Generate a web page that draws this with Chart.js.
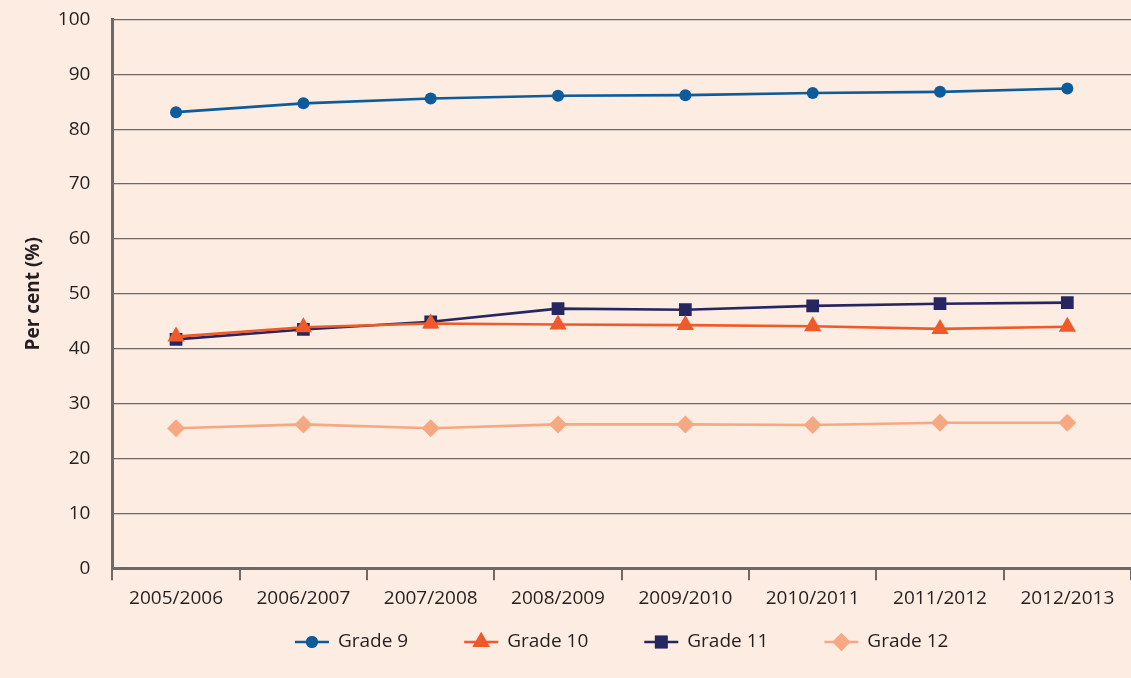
<!DOCTYPE html>
<html>
<head>
<meta charset="utf-8">
<script src="https://cdn.jsdelivr.net/npm/chart.js@4.4.1/dist/chart.umd.min.js"></script>
<style>
    html, body { margin: 0; padding: 0; background: #fdece2; overflow: hidden; }
    #wrap { width: 1131px; height: 678px; }
</style>
</head>
<body>
<div id="wrap"><canvas id="myChart"></canvas></div>
<script>
const years = ["2005/2006", "2006/2007", "2007/2008", "2008/2009", "2009/2010", "2010/2011", "2011/2012", "2012/2013"]
const grade9 = [83.1, 84.7, 85.6, 86.1, 86.2, 86.6, 86.8, 87.4]
const grade10 = [42.2, 43.9, 44.6, 44.4, 44.3, 44.1, 43.6, 44.0]
const grade11 = [41.7, 43.5, 44.9, 47.3, 47.1, 47.8, 48.2, 48.4]
const grade12 = [25.5, 26.2, 25.5, 26.2, 26.2, 26.1, 26.5, 26.5]
const yTicks = [0, 10, 20, 30, 40, 50, 60, 70, 80, 90, 100]

const fontFamily = "'Open Sans', 'Noto Sans', sans-serif"
const textColor = "#231f20"
const gridColor = "#6e6867"

function makeSet(label, data, color, style, radius) {
    return {
        label: label,
        data: data,
        borderColor: color,
        backgroundColor: color,
        borderWidth: 2.6,
        pointStyle: style,
        pointRadius: radius,
        pointHoverRadius: radius,
        pointBorderWidth: 0,
        tension: 0,
    }
}

const datasets = [
    makeSet("Grade 9", grade9, "#0d5b99", "circle", 6),
    makeSet("Grade 10", grade10, "#ef5a28", "triangle", 10),
    makeSet("Grade 11", grade11, "#262761", "rect", 9),
    makeSet("Grade 12", grade12, "#f6a883", "rectRot", 9),
]

// legend drawn by hand: line + marker + text, centred under the plot
const lineLegend = {
    id: "lineLegend",
    afterDraw(chart) {
        const ctx = chart.ctx
        const sets = chart.data.datasets
        const y = 642
        const lineLen = 34
        const textGap = 9
        const itemGap = 56
        ctx.save()
        ctx.font = "19px " + fontFamily
        const widths = sets.map((ds) => ctx.measureText(ds.label).width)
        let total = 0
        widths.forEach((w, i) => {
            total += lineLen + textGap + w + (i < widths.length - 1 ? itemGap : 0)
        })
        const area = chart.chartArea
        let x = (area.left + area.right) / 2 - total / 2
        sets.forEach((ds, i) => {
            ctx.strokeStyle = ds.borderColor
            ctx.lineWidth = 2.6
            ctx.beginPath()
            ctx.moveTo(x, y)
            ctx.lineTo(x + lineLen, y)
            ctx.stroke()
            ctx.fillStyle = ds.backgroundColor
            Chart.helpers.drawPoint(ctx, { pointStyle: ds.pointStyle, radius: ds.pointRadius, borderWidth: 0 }, x + lineLen / 2, y)
            ctx.fill()
            ctx.fillStyle = textColor
            ctx.textBaseline = "middle"
            ctx.textAlign = "left"
            ctx.fillText(ds.label, x + lineLen + textGap, y)
            x += lineLen + textGap + widths[i] + itemGap
        })
        ctx.restore()
    },
}

const canvasChart = document.getElementById("myChart").getContext("2d")

new Chart(canvasChart, {
    type: "line",
    data: { labels: years, datasets: datasets },
    plugins: [lineLegend],
    options: {
        responsive: true,
        maintainAspectRatio: false,
        animation: false,
        layout: { autoPadding: false, padding: { top: 0, right: 0, bottom: 61, left: 22 } },
        plugins: {
            tooltip: { enabled: false },
            legend: { display: false },
        },
        scales: {
            x: {
                offset: true,
                grid: {
                    offset: true,
                    drawOnChartArea: false,
                    drawTicks: true,
                    tickLength: 12,
                    color: gridColor,
                    lineWidth: 2,
                },
                border: { display: true, color: gridColor, width: 3 },
                ticks: {
                    color: textColor,
                    font: { family: fontFamily, size: 19 },
                    padding: 7,
                    maxRotation: 0,
                    autoSkip: false,
                },
            },
            y: {
                min: 0,
                max: 100,
                afterBuildTicks: (axis) => {
                    axis.ticks = yTicks.map((v) => ({ value: v }))
                },
                grid: {
                    color: gridColor,
                    lineWidth: 1.3,
                    drawTicks: true,
                    tickLength: 14,
                    tickColor: "rgba(0,0,0,0)",
                },
                border: { display: true, color: gridColor, width: 3 },
                ticks: {
                    color: textColor,
                    font: { family: fontFamily, size: 19 },
                    padding: 8,
                },
                title: {
                    display: true,
                    text: "Per cent (%)",
                    color: textColor,
                    font: { family: fontFamily, size: 19, weight: "bold" },
                    padding: { top: 0, bottom: 5 },
                },
            },
        },
    },
})
</script>
</body>
</html>
